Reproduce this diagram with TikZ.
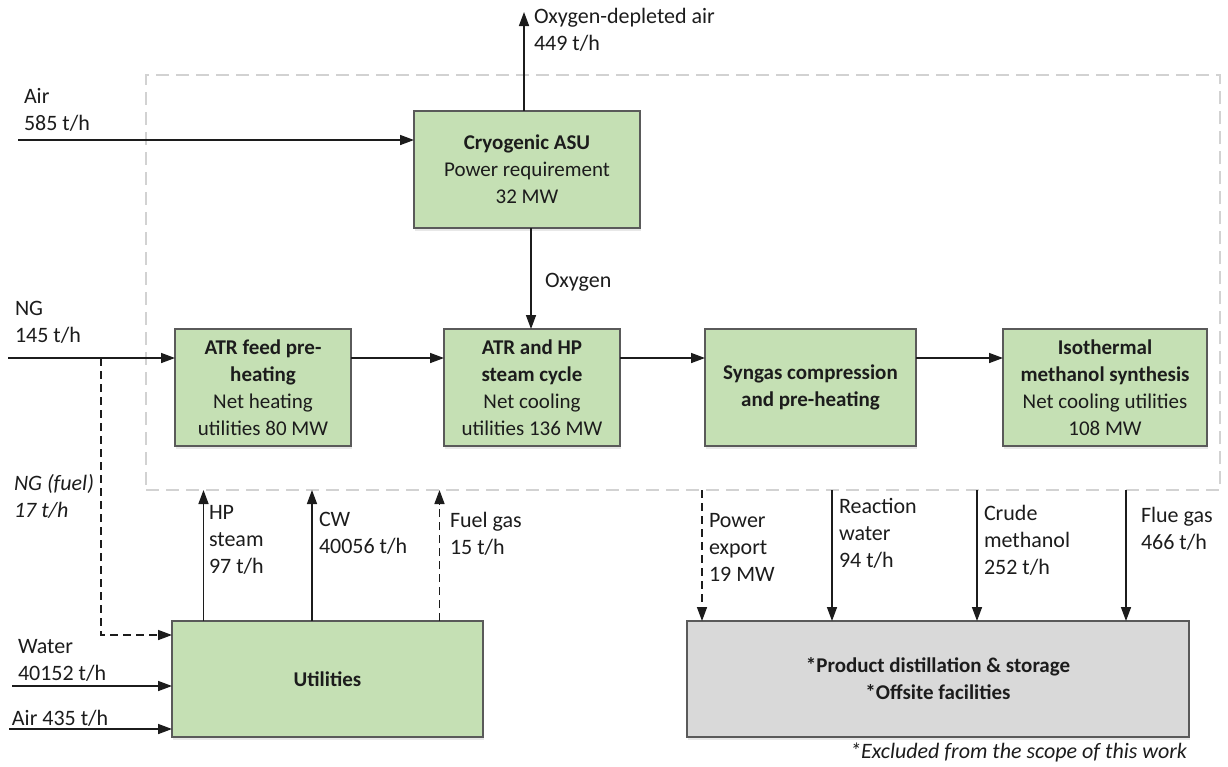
\documentclass[tikz,border=0pt]{standalone}
\usepackage{fontspec}
\setmainfont{Carlito}
\usetikzlibrary{arrows.meta,shadows}

\definecolor{boxgreen}{HTML}{C5E0B4}
\definecolor{boxgrey}{HTML}{D9D9D9}
\definecolor{edgegrey}{HTML}{5A5A5A}
\definecolor{scopegrey}{HTML}{D2D2D2}
\definecolor{inkblack}{HTML}{1C1C1C}

\begin{document}
\begin{tikzpicture}[x=1pt,y=-1pt,
  font=\fontsize{21}{27}\selectfont,
  every node/.style={outer sep=0pt},
  unit/.style={draw=edgegrey, line width=1.3pt, fill=boxgreen, align=center,
    inner sep=0pt, text=inkblack,
    drop shadow={shadow xshift=1pt, shadow yshift=-2.5pt, opacity=.18, fill=gray}},
  greyunit/.style={unit, fill=boxgrey},
  scopebox/.style={draw=scopegrey, line width=1.4pt, dash pattern=on 13pt off 7pt, inner sep=0pt},
  lbl/.style={anchor=west, align=left, inner sep=0pt, text=inkblack,
    font=\fontsize{22}{27}\selectfont},
  ital/.style={font=\fontsize{22}{27}\selectfont\itshape},
  arr/.style={-{Triangle[length=14pt,width=10pt]}, line width=1.5pt, draw=inkblack},
  brokenline/.style={dash pattern=on 8pt off 5pt}
]
\useasboundingbox (0,0) rectangle (1228,766);

% system boundary
\node[scopebox, minimum width=1074pt, minimum height=415pt] (scope) at (683,282.5) {};

% process units
\node[unit, minimum width=226pt, minimum height=117pt] (asu) at (527,169.5)
  {\textbf{Cryogenic ASU}\\Power requirement\\32 MW};
\node[unit, minimum width=176pt, minimum height=117pt] (pre) at (263,387.5)
  {\textbf{ATR feed pre-}\\\textbf{heating}\\Net heating\\utilities 80 MW};
\node[unit, minimum width=176pt, minimum height=117pt] (atr) at (532,387.5)
  {\textbf{ATR and HP}\\\textbf{steam cycle}\\Net cooling\\utilities 136 MW};
\node[unit, minimum width=211pt, minimum height=117pt] (syn) at (810.5,387.5)
  {\textbf{Syngas compression}\\\textbf{and pre-heating}};
\node[unit, minimum width=204pt, minimum height=117pt] (iso) at (1105,387.5)
  {\textbf{Isothermal}\\\textbf{methanol synthesis}\\Net cooling utilities\\108 MW};
\node[unit, minimum width=311pt, minimum height=116pt] (util) at (327.5,679)
  {\textbf{Utilities}};
\node[greyunit, minimum width=502pt, minimum height=116pt] (off) at (938,679)
  {\textbf{*Product distillation \& storage}\\\textbf{*Offsite facilities}};

% free ends and stream positions
\coordinate (airin) at (18,140);
\coordinate (odep) at (524,12);
\coordinate (oxx) at (531,0);
\coordinate (ngin) at (8,358);
\coordinate (ngbr) at (101,358);
\coordinate (ngturn) at (101,635);
\coordinate (watin) at (12,686);
\coordinate (airtwo) at (9,729);
\coordinate (hpx) at (203.5,0);
\coordinate (cwx) at (312,0);
\coordinate (fgx) at (439.5,0);
\coordinate (pex) at (702,0);
\coordinate (rwx) at (832,0);
\coordinate (cmx) at (977,0);
\coordinate (flx) at (1126,0);

% main streams
\draw[arr] (airin) -- (airin -| asu.west);
\draw[arr] (odep |- asu.north) -- (odep);
\draw[arr] (oxx |- asu.south) -- (oxx |- atr.north);
\draw[arr] (ngin) -- (ngin -| pre.west);
\draw[arr] (ngin -| pre.east) -- (ngin -| atr.west);
\draw[arr] (ngin -| atr.east) -- (ngin -| syn.west);
\draw[arr] (ngin -| syn.east) -- (ngin -| iso.west);
\draw[arr, brokenline] (ngbr) -- (ngturn) -- (ngturn -| util.west);
\draw[arr] (watin) -- (watin -| util.west);
\draw[arr] (airtwo) -- (airtwo -| util.west);

% utilities into the process
\draw[arr] (hpx |- util.north) -- (hpx |- scope.south);
\draw[arr] (cwx |- util.north) -- (cwx |- scope.south);
\draw[arr, brokenline] (fgx |- util.north) -- (fgx |- scope.south);

% products leaving the process
\draw[arr, brokenline] (pex |- scope.south) -- (pex |- off.north);
\draw[arr] (rwx |- scope.south) -- (rwx |- off.north);
\draw[arr] (cmx |- scope.south) -- (cmx |- off.north);
\draw[arr] (flx |- scope.south) -- (flx |- off.north);

% stream labels
\node[lbl] (lodep) at (534,30) {Oxygen-depleted air\\449 t/h};
\node[lbl] (lair) at (24,110) {Air\\585 t/h};
\node[lbl] (lox) at (545,282) {Oxygen};
\node[lbl] (lng) at (15,322) {NG\\145 t/h};
\node[lbl, ital] (lngf) at (14,496.5) {NG (fuel)\\17 t/h};
\node[lbl] (lhp) at (209,540) {HP\\steam\\97 t/h};
\node[lbl] (lcw) at (319,533.5) {CW\\40056 t/h};
\node[lbl] (lfg) at (450,533.5) {Fuel gas\\15 t/h};
\node[lbl] (lwat) at (18,660) {Water\\40152 t/h};
\node[lbl] (lairtwo) at (12,718) {Air 435 t/h};
\node[lbl] (lpe) at (709,547) {Power\\export\\19 MW};
\node[lbl] (lrw) at (839,533) {Reaction\\water\\94 t/h};
\node[lbl] (lcm) at (984,540) {Crude\\methanol\\252 t/h};
\node[lbl] (lfl) at (1141,529) {Flue gas\\466 t/h};
\node[lbl, ital, anchor=east] (lexcl) at (1187,752) {*Excluded from the scope of this work};
\end{tikzpicture}
\end{document}
